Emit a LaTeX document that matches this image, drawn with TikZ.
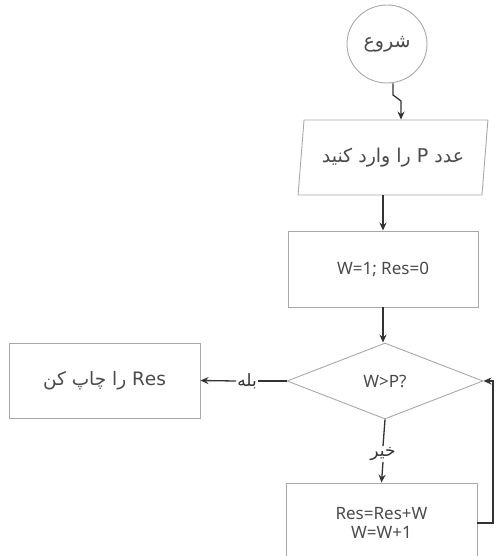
\documentclass[tikz,border=0pt]{standalone}
\usepackage{fontspec}
\setmainfont{Noto Sans}
\newfontfamily\fa[Script=Arabic]{DejaVu Sans}
\TeXXeTstate=1
\usetikzlibrary{shapes.geometric,arrows.meta}
\definecolor{boxc}{HTML}{A8A8A8}
\definecolor{linec}{HTML}{333333}
\definecolor{txtc}{HTML}{4A4A4A}
\newcommand{\faf}{\fa\fontsize{19}{22}\selectfont}
\tikzset{
  shp/.style={draw=boxc, line width=0.9pt, inner sep=0pt, text=txtc, font=\fontsize{17}{22}\selectfont, align=center},
  boxn/.style={shp, rectangle},
  conn/.style={draw=linec, line width=1.3pt},
  arr/.style={conn, -{Stealth[length=8pt,width=7pt]}},
  lbl/.style={inner sep=1pt, text=linec, font=\fontsize{17}{20}\selectfont\fa}
}
\begin{document}
\begin{tikzpicture}[x=1pt,y=-1pt]
\useasboundingbox (0,0) rectangle (495,556);
\node[shp, ellipse, minimum width=80pt, minimum height=78pt] (start) at (387,44) {\faf\beginR شروع\endR};
\node[shp, trapezium, trapezium left angle=76, trapezium right angle=104, trapezium stretches=true, minimum width=190pt, minimum height=75pt] (in) at (393,157.5) {\faf\beginR عدد P را وارد کنید\endR};
\node[boxn, minimum width=190pt, minimum height=76pt] (init) at (383,269) {W=1; Res=0};
\node[shp, diamond, minimum width=196pt, minimum height=76pt] (dec) at (385,381) {W>P?};
\node[boxn, minimum width=191pt, minimum height=75pt] (print) at (104.5,380.5) {\fa\fontsize{18.5}{22}\selectfont\beginR\beginL Res\endL{} را چاپ کن\endR};
\node[boxn, minimum width=191pt, minimum height=80pt, align=center] (body) at (381.5,523) {Res=Res+W\\[-3pt]W=W+1};
\node[lbl] (yes) at (247,381) {\beginR بله\endR};
\node[lbl] (no) at (383,454) {\beginR خیر\endR};
\coordinate (z1) at (393,95);
\coordinate (z2) at (401,101);
\coordinate (rr) at (493,0);
\draw[arr] (z1 |- start.south) -- (z1) -- (z2) -- (z2 |- in.north);
\draw[arr] (init.north |- in.south) -- (init.north);
\draw[arr] (init.south) -- (init.south |- dec.north);
\draw[conn] (dec.west) -- (yes.east);
\draw[arr] (yes.west) -- (print.east);
\draw[conn] (dec.south) -- (no.north);
\draw[arr] (no.south) -- (body.north);
\draw[arr] (body.east) -- (rr |- body.east) -- (rr |- dec.east) -- (dec.east);
\end{tikzpicture}
\end{document}
